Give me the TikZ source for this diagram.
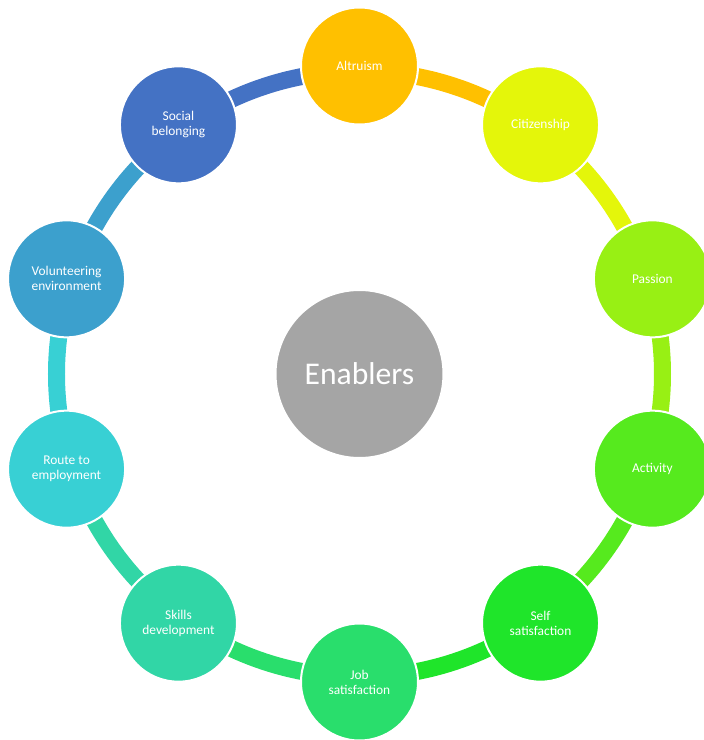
\documentclass[tikz,border=0pt]{standalone}
\usepackage{fontspec}
\setmainfont{Carlito}
\usepackage{tikz}
\usetikzlibrary{positioning}

\definecolor{colaltruism}{HTML}{FFC000}
\definecolor{colcitizen}{HTML}{E4F60A}
\definecolor{colpassion}{HTML}{98F014}
\definecolor{colactivity}{HTML}{56EA1E}
\definecolor{colself}{HTML}{1FE52A}
\definecolor{coljob}{HTML}{29DE6C}
\definecolor{colskills}{HTML}{31D6A6}
\definecolor{colroute}{HTML}{38D0D4}
\definecolor{colvolunteer}{HTML}{3CA0CD}
\definecolor{colsocial}{HTML}{4472C4}
\definecolor{colhub}{HTML}{A5A5A5}

\begin{document}
\begin{tikzpicture}[
		x=1pt,
		y=1pt
		]
		% Define the radii of the ring of circles and of the links.
			\def\ringrad{308}
			\def\arcrad{303}
		\tikzstyle{enabler}=[
			circle,
			draw=white,
			line width=2pt,
			minimum size=117pt,
			inner sep=0pt,
			text=white,
			align=center,
			font=\fontsize{13.4}{15}\selectfont
		]
		\tikzstyle{hub}=[
			enabler,
			fill=colhub,
			minimum size=168pt,
			font=\fontsize{31.6}{36}\selectfont
		]
		\tikzstyle{link}=[
			line width=17pt
		]
		\useasboundingbox (-359.5,-366) rectangle (344.5,374);
		% Draw the central node.
			\node[hub] (H) at (0,0) {Enablers};
		% Draw the links between neighbouring circles.
			\foreach \col [count=\i] in {colaltruism, colcitizen, colpassion, colactivity, colself, coljob, colskills, colroute, colvolunteer, colsocial}
			{
				\pgfmathsetmacro\ang{90-36*(\i-1)}
				\draw[link, \col] (H.center) ++(\ang:\arcrad) arc[start angle=\ang, end angle=\ang-36, radius=\arcrad];
			}
		% Draw the ring of enabler nodes.
			\foreach \name / \label / \col [count=\i] in {altruism/Altruism/colaltruism, citizen/Citizenship/colcitizen, passion/Passion/colpassion, activity/Activity/colactivity, self/Self\\satisfaction/colself, job/Job\\satisfaction/coljob, skills/Skills\\development/colskills, route/Route to\\employment/colroute, volunteer/Volunteering\\environment/colvolunteer, social/Social\\belonging/colsocial}
			{
				\pgfmathsetmacro\ang{90-36*(\i-1)}
				\node[enabler, fill=\col] (\name) at (\ang:\ringrad) {\label};
			}
	\end{tikzpicture}
\end{document}
